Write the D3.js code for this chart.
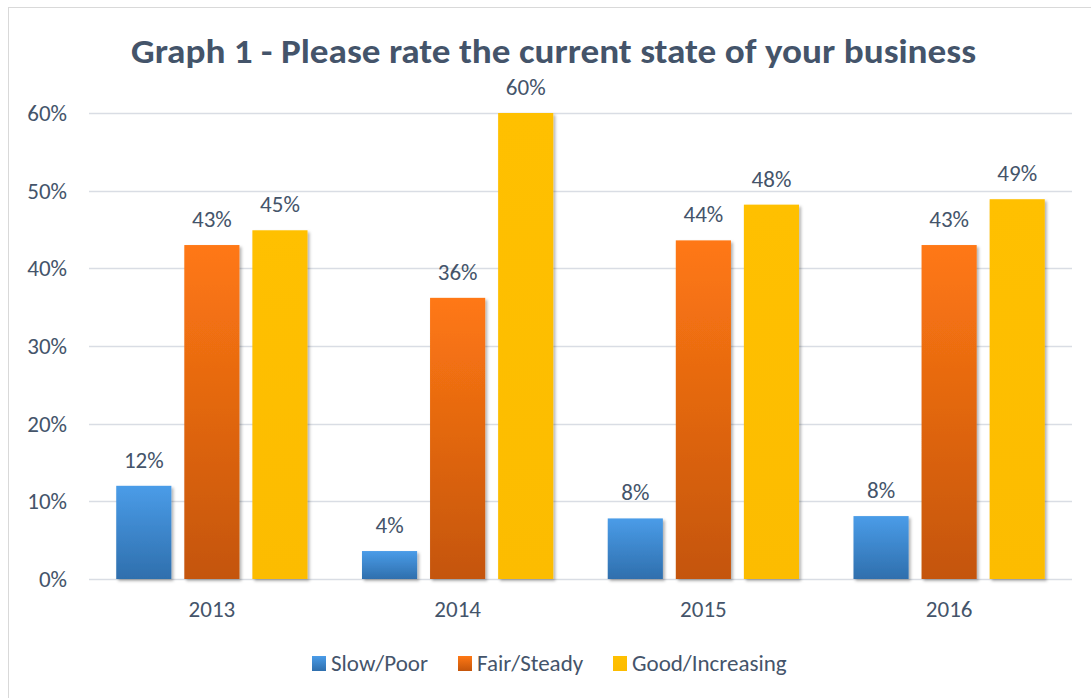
<!DOCTYPE html>
<html>
<head>
<meta charset="utf-8">
<script src="https://cdn.jsdelivr.net/npm/d3@7"></script>
<style>
  body { margin: 0; background: #fff; }
  text { font-family: Carlito, Calibri, "Open Sans", sans-serif; }
</style>
</head>
<body>
<div id="chart"></div>
<script>
(function() {
  'use strict';

  var years = ['2013', '2014', '2015', '2016'];
  var seriesNames = ['Slow/Poor', 'Fair/Steady', 'Good/Increasing'];
  var slowPoor = [12.0, 3.6, 7.8, 8.1];
  var fairSteady = [43.0, 36.2, 43.6, 43.0];
  var goodIncreasing = [44.9, 60.0, 48.2, 48.9];
  var labelText = [
    ['12%', '4%', '8%', '8%'],
    ['43%', '36%', '44%', '43%'],
    ['45%', '60%', '48%', '49%']
  ];
  var yTicks = [0, 10, 20, 30, 40, 50, 60];

  var svgW = 1091,
    svgH = 698;

  var textColor = '#44546a',
    fontSize = 23;

  var svg = d3.select('#chart')
    .append('svg')
    .attr('width', svgW)
    .attr('height', svgH);

  var defs = svg.append('defs');

  // gradients (yellow is nearly flat)
  var grads = [
    { id: 'gBlue', top: '#4a9ce8', bottom: '#2f6fad' },
    { id: 'gOrange', top: '#ff7814', bottom: '#c4550b' },
    { id: 'gYellow', top: '#ffc000', bottom: '#fcbc00' }
  ];
  grads.forEach(function(g) {
    var lg = defs.append('linearGradient')
      .attr('id', g.id)
      .attr('x1', 0).attr('y1', 0)
      .attr('x2', 0).attr('y2', 1);
    lg.append('stop').attr('offset', '0%').attr('stop-color', g.top);
    lg.append('stop').attr('offset', '100%').attr('stop-color', g.bottom);
  });

  var shadow = defs.append('filter')
    .attr('id', 'shadow')
    .attr('x', '-20%').attr('y', '-10%')
    .attr('width', '140%').attr('height', '130%');
  shadow.append('feDropShadow')
    .attr('dx', 2).attr('dy', 2)
    .attr('stdDeviation', 1.5)
    .attr('flood-color', '#000')
    .attr('flood-opacity', 0.3);

  // chart border (only top and left are inside the picture)
  svg.append('rect')
    .attr('x', 8.5).attr('y', 7.5)
    .attr('width', svgW + 10).attr('height', svgH + 10)
    .attr('fill', 'none')
    .attr('stroke', '#d9d9d9');

  // title
  svg.append('text')
    .attr('x', 553.5)
    .attr('y', 63)
    .attr('text-anchor', 'middle')
    .attr('font-size', 34)
    .attr('font-weight', 'bold')
    .attr('fill', textColor)
    .attr('textLength', 845)
    .attr('lengthAdjust', 'spacingAndGlyphs')
    .text('Graph 1 - Please rate the current state of your business');

  var plotL = 89, plotR = 1072, plotT = 113, plotB = 579;

  var y = d3.scaleLinear()
    .domain([0, 60])
    .range([plotB, plotT]);

  var x0 = d3.scaleBand()
    .domain(years)
    .range([plotL, plotR])
    .padding(0);

  var x1 = d3.scaleBand()
    .domain(seriesNames)
    .range([0, x0.bandwidth()])
    .paddingInner(0.19)
    .paddingOuter(0.4);

  // gridlines
  svg.append('g')
    .selectAll('line')
    .data(yTicks)
    .enter()
    .append('line')
    .attr('x1', plotL)
    .attr('x2', plotR)
    .attr('y1', function(d) { return Math.round(y(d)) + 0.5; })
    .attr('y2', function(d) { return Math.round(y(d)) + 0.5; })
    .attr('stroke', '#d9dde4')
    .attr('stroke-width', 1.5);

  // y axis labels
  var yAxis = d3.axisLeft(y)
    .tickValues(yTicks)
    .tickSize(0)
    .tickPadding(0)
    .tickFormat(function(d) { return d + '%'; });

  var yg = svg.append('g')
    .attr('transform', 'translate(67,0)')
    .call(yAxis);
  yg.select('.domain').remove();
  yg.selectAll('text')
    .attr('font-size', fontSize)
    .attr('fill', textColor)
    .attr('font-family', 'Carlito, Calibri, "Open Sans", sans-serif');

  // x axis labels
  var xAxis = d3.axisBottom(x0).tickSize(0).tickPadding(0);
  var xg = svg.append('g')
    .attr('transform', 'translate(0,' + (plotB + 22) + ')')
    .call(xAxis);
  xg.select('.domain').remove();
  xg.selectAll('text')
    .attr('font-size', fontSize)
    .attr('fill', textColor)
    .attr('font-family', 'Carlito, Calibri, "Open Sans", sans-serif');

  var seriesData = [slowPoor, fairSteady, goodIncreasing];
  var fills = ['url(#gBlue)', 'url(#gOrange)', 'url(#gYellow)'];

  var rows = [];
  seriesData.forEach(function(vals, si) {
    vals.forEach(function(v, i) {
      rows.push({ year: years[i], series: seriesNames[si], si: si, value: v, label: labelText[si][i] });
    });
  });

  svg.append('g')
    .selectAll('rect')
    .data(rows)
    .enter()
    .append('rect')
    .attr('x', function(d) { return x0(d.year) + x1(d.series); })
    .attr('y', function(d) { return y(d.value); })
    .attr('width', x1.bandwidth())
    .attr('height', function(d) { return plotB - y(d.value); })
    .attr('fill', function(d) { return fills[d.si]; })
    .attr('filter', 'url(#shadow)');

  svg.append('g')
    .selectAll('text')
    .data(rows)
    .enter()
    .append('text')
    .attr('x', function(d) { return x0(d.year) + x1(d.series) + x1.bandwidth() / 2; })
    .attr('y', function(d) { return y(d.value) - 18; })
    .attr('text-anchor', 'middle')
    .attr('font-size', fontSize)
    .attr('fill', textColor)
    .text(function(d) { return d.label; });

  // legend
  var legendX = [312, 458, 613];
  var legend = svg.append('g')
    .selectAll('g')
    .data(seriesNames)
    .enter()
    .append('g')
    .attr('transform', function(d, i) { return 'translate(' + legendX[i] + ',656)'; });

  legend.append('rect')
    .attr('width', 14)
    .attr('height', 15)
    .attr('fill', function(d, i) { return fills[i]; });

  legend.append('text')
    .attr('x', 19)
    .attr('y', 14.5)
    .attr('font-size', fontSize)
    .attr('fill', textColor)
    .text(function(d) { return d; });

}());
</script>
</body>
</html>
